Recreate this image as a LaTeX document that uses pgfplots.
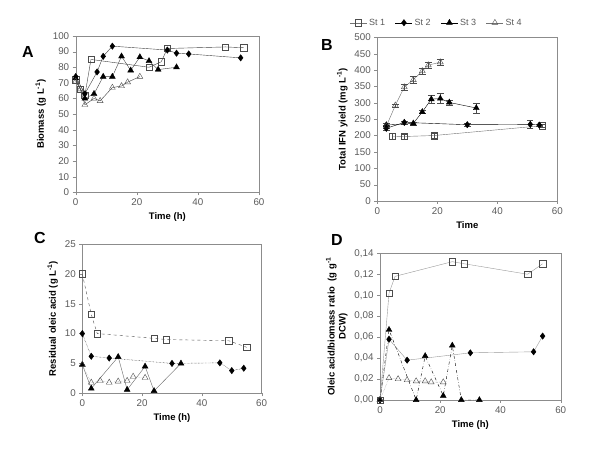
\documentclass[border=0pt]{standalone}
\usepackage{fontspec}
\setmainfont{Liberation Sans}
\usepackage{pgfplots}
\pgfplotsset{compat=1.18}
\definecolor{tickgray}{HTML}{5A5A5A}
\definecolor{axgray}{HTML}{8C8C8C}
\pgfplotsset{
  panel/.style={
    scale only axis, xmin=0, xmax=60, xtick={0,20,40,60},
    axis line style={axgray}, tick style={axgray},
    tick align=outside, xtick pos=left, ytick pos=left,
    major tick length=3pt,
    ticklabel style={font=\fontsize{9.8}{10}\selectfont, text=tickgray},
    label style={font=\bfseries\fontsize{9.5}{11}\selectfont},
    /pgf/number format/assume math mode=true,
    clip=false,
  },
  sq/.style={mark=square, mark size=3.2pt, mark options={solid, fill=white, draw=black!70}},
  di/.style={mark=diamond*, mark size=3.2pt, mark options={solid, fill=black, draw=black}},
  tf/.style={mark=triangle*, mark size=3.4pt, mark options={solid, fill=black, draw=black}},
  to/.style={mark=triangle, mark size=3.4pt, mark options={solid, fill=white, draw=black!70}},
}
\begin{document}
\begin{tikzpicture}
\path[use as bounding box] (0pt,0pt) rectangle (600pt,449pt);
% ---------- Panel A ----------
\begin{axis}[panel, at={(75.7pt,256.7pt)}, anchor=south west, width=183.3pt, height=156.3pt,
  ymin=0, ymax=100, ytick={0,10,...,100},
  xlabel={Time (h)}, ylabel={Biomass (g L\textsuperscript{-1})}]
\addplot[black!75, thin, sq] coordinates {(0,72)(1.5,66)(3,62)(5,85)(24,80)(28,83.5)(30,92)(49,93)(55,92.5)};
\addplot[black!75, thin, di] coordinates {(0,74)(3,63)(7,77)(9,87)(12,93.5)(30,91)(33,89)(37,88.5)(54,86)};
\addplot[black!75, thin, tf] coordinates {(0,73)(3,60)(6,63)(9,74)(12,74)(15,87)(18,78)(21,86.5)(24,84)(27,78.5)(33,80)};
\addplot[black!75, thin, to] coordinates {(0,71)(1.5,66)(3,56)(6,60)(8,58.5)(12,67)(15,68)(17,70.5)(21,74)};
\end{axis}
\node[font=\bfseries\fontsize{16}{16}\selectfont] at (28pt,397pt) {A};
% ---------- Panel B ----------
\begin{axis}[panel, at={(377.3pt,248pt)}, anchor=south west, width=180pt, height=163.7pt,
  ymin=0, ymax=500, ytick={0,50,...,500},
  xlabel={Time}, ylabel={Total IFN yield (mg L\textsuperscript{-1})},
  legend style={draw=none, fill=none, at={(0.33,1.089)}, anchor=center, legend columns=4,
    font=\fontsize{9}{10}\selectfont, text=tickgray,
    /tikz/every even column/.append style={column sep=8pt}}]
\addplot[black!55, thin, sq, error bars/.cd, y dir=both, y explicit, error bar style={black!70}]
  coordinates {(5,198) +- (0,8) (9,197) +- (0,7) (19,200) +- (0,8) (55,230) +- (0,5)};
\addlegendentry{St 1}
\addplot[black, thin, di, error bars/.cd, y dir=both, y explicit, error bar style={black!70}]
  coordinates {(3,222) +- (0,6) (9,240) +- (0,4) (30,233) +- (0,4) (51,234) +- (0,12) (54,232) +- (0,4)};
\addlegendentry{St 2}
\addplot[black, thin, tf, error bars/.cd, y dir=both, y explicit, error bar style={black!70}]
  coordinates {(3,232) +- (0,5) (12,237) +- (0,5) (15,272) +- (0,4) (18,311) +- (0,13) (21,313) +- (0,15) (24,301) +- (0,7) (33,284) +- (0,15)};
\addlegendentry{St 3}
\addplot[black!55, thin, to, error bars/.cd, y dir=both, y explicit, error bar style={black!70}]
  coordinates {(3,228) +- (0,5) (6,292) +- (0,5) (9,348) +- (0,10) (12,370) +- (0,10) (15,397) +- (0,10) (17,415) +- (0,10) (21,424) +- (0,10)};
\addlegendentry{St 4}
\end{axis}
\node[font=\bfseries\fontsize{16}{16}\selectfont] at (327pt,404pt) {B};
% ---------- Panel C ----------
\begin{axis}[panel, at={(82.3pt,55.7pt)}, anchor=south west, width=179.4pt, height=149.3pt,
  ymin=0, ymax=25, ytick={0,5,...,25},
  xlabel={Time (h)}, ylabel={Residual oleic acid (g L\textsuperscript{-1})}]
\addplot[black!70, thin, dashed, sq] coordinates {(0,20)(3,13.2)(5,10)(24,9.2)(28,9)(49,8.8)(55,7.7)};
\addplot[black, thin, densely dotted, di] coordinates {(0,10)(3,6.2)(9,5.9)(30,5)(46,5.1)(50,3.8)(54,4.2)};
\addplot[black!60, thin, tf] coordinates {(0,4.8)(3,0.8)(12,6.1)(15,0.6)(21,4.5)(24,0.4)(33,5)};
\addplot[black!40, thin, densely dotted, to] coordinates {(0,4.8)(3,1.8)(6,2.1)(9,1.8)(12,2.0)(15,2.1)(17,2.8)(21,2.6)};
\end{axis}
\node[font=\bfseries\fontsize{16}{16}\selectfont] at (40pt,211pt) {C};
% ---------- Panel D ----------
\begin{axis}[panel, at={(380pt,49pt)}, anchor=south west, width=180.7pt, height=146.7pt,
  ymin=0, ymax=0.14, ytick={0,0.02,...,0.14},
  yticklabel style={/pgf/number format/.cd, fixed, fixed zerofill, precision=2, use comma},
  xlabel={Time (h)}, ylabel={Oleic acid/biomass ratio\ \ (g g\textsuperscript{-1}\\DCW)},
  ylabel style={align=center}]
\addplot[black!40, thin, sq] coordinates {(0,0)(3,0.102)(5,0.118)(24,0.132)(28,0.130)(49,0.120)(54,0.130)};
\addplot[black!40, thin, di] coordinates {(0,0)(3,0.058)(9,0.038)(30,0.045)(51,0.046)(54,0.061)};
\addplot[black, thin, dash dot, tf] coordinates {(0,0)(3,0.067)(12,0)(15,0.042)(21,0.004)(24,0.052)(27,0)(33,0)};
\addplot[black!45, thin, densely dotted, to] coordinates {(0,0)(3,0.021)(6,0.020)(9,0.019)(12,0.018)(15,0.018)(17,0.017)(21,0.017)};
\end{axis}
\node[font=\bfseries\fontsize{16}{16}\selectfont] at (337pt,209pt) {D};
\end{tikzpicture}
\end{document}
